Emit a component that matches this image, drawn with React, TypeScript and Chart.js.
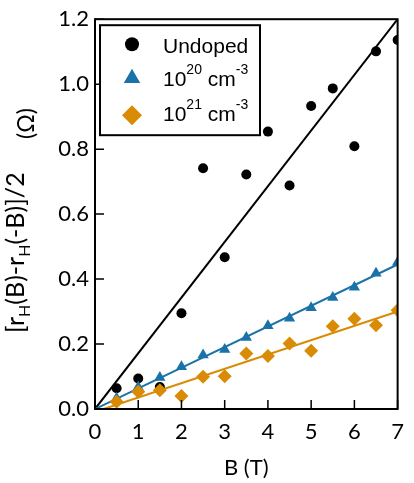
import React, { useEffect, useRef } from 'react';
import { Chart, registerables } from 'chart.js';

Chart.register(...registerables);

// ---- data ----
const bValues = [0.5, 1, 1.5, 2, 2.5, 3, 3.5, 4, 4.5, 5, 5.5, 6, 6.5, 7];
const undoped = [0.064, 0.094, 0.068, 0.295, 0.741, 0.467, 0.722, 0.854, 0.688, 0.933, 0.987, 0.809, 1.101, 1.136];
const doped20 = [0.033, 0.068, 0.097, 0.13, 0.166, 0.183, 0.22, 0.256, 0.279, 0.312, 0.343, 0.375, 0.418, 0.452];
const doped21 = [0.022, 0.053, 0.058, 0.04, 0.099, 0.101, 0.171, 0.163, 0.202, 0.179, 0.255, 0.278, 0.258, 0.304];

const fitUndopedX = [0, 7];
const fitUndopedY = [0, 1.2];
const fit20X = [0, 7];
const fit20Y = [0, 0.445];
const fit21X = [0.2, 7];
const fit21Y = [0, 0.3];

const xMin = 0, xMax = 7, xStep = 1;
const yMin = 0, yMax = 1.2, yStep = 0.2;

const legendUndoped = 'Undoped';
const legend20 = ['10', '20', ' cm', '-3'];
const legend21 = ['10', '21', ' cm', '-3'];
const xTitle = 'B (T)';
const yTitleParts = ['[r', 'H', '(B)-r', 'H', '(-B)]/2'];
const yTitleUnit = '(Ω)';

const BLACK = '#000000';
const BLUE = '#1a72a8';
const ORANGE = '#d98b06';
const FONT = 'Lato, "DejaVu Sans", sans-serif';
const LFONT = '"Liberation Sans", Arial, sans-serif';

const pts = (xs: number[], ys: number[]) => xs.map((v, i) => ({ x: v, y: ys[i] }));

type Seg = { t: string; size: number; dy: number; fam: string };

function drawRich(ctx: CanvasRenderingContext2D, segs: Seg[], x: number, y: number) {
  let cx = x;
  for (const s of segs) {
    ctx.font = `${s.size}px ${s.fam}`;
    ctx.fillText(s.t, cx, y + s.dy);
    cx += ctx.measureText(s.t).width;
  }
  return cx - x;
}

const customPlugin = {
  id: 'customDecor',
  afterDraw(chart: any) {
    const { ctx, chartArea: a, scales } = chart;
    const xs = scales.x, ys = scales.y;
    ctx.save();
    // frame
    ctx.strokeStyle = BLACK;
    ctx.lineWidth = 2;
    ctx.strokeRect(a.left, a.top, a.right - a.left, a.bottom - a.top);
    // inward ticks
    ctx.lineWidth = 1.5;
    ctx.beginPath();
    xs.ticks.forEach((t: any) => {
      const px = xs.getPixelForValue(t.value);
      ctx.moveTo(px, a.bottom);
      ctx.lineTo(px, a.bottom - 9);
    });
    ys.ticks.forEach((t: any) => {
      const py = ys.getPixelForValue(t.value);
      ctx.moveTo(a.left, py);
      ctx.lineTo(a.left + 9, py);
    });
    ctx.stroke();

    // legend
    const bx = a.left + 5, by = a.top + 6, bw = 160, bh = 110;
    ctx.fillStyle = '#ffffff';
    ctx.fillRect(bx, by, bw, bh);
    ctx.lineWidth = 2;
    ctx.strokeStyle = BLACK;
    ctx.strokeRect(bx, by, bw, bh);
    const mx = bx + 32;
    ctx.fillStyle = BLACK;
    ctx.beginPath();
    ctx.arc(mx, by + 19, 7, 0, Math.PI * 2);
    ctx.fill();
    ctx.fillStyle = BLUE;
    ctx.beginPath();
    const tr = 9.5, tcy = by + 53;
    ctx.moveTo(mx, tcy - tr);
    ctx.lineTo(mx + tr * Math.sin((2 * Math.PI) / 3), tcy + tr / 2);
    ctx.lineTo(mx - tr * Math.sin((2 * Math.PI) / 3), tcy + tr / 2);
    ctx.closePath();
    ctx.fill();
    ctx.fillStyle = ORANGE;
    ctx.beginPath();
    const dr = 10, dcy = by + 90;
    ctx.moveTo(mx, dcy - dr);
    ctx.lineTo(mx + dr, dcy);
    ctx.lineTo(mx, dcy + dr);
    ctx.lineTo(mx - dr, dcy);
    ctx.closePath();
    ctx.fill();
    ctx.fillStyle = BLACK;
    ctx.textBaseline = 'alphabetic';
    ctx.textAlign = 'left';
    const tx = bx + 63;
    drawRich(ctx, [{ t: legendUndoped, size: 21, dy: 0, fam: LFONT }], tx, by + 28);
    const mk = (p: string[]): Seg[] => [
      { t: p[0], size: 21, dy: 0, fam: LFONT },
      { t: p[1], size: 14, dy: -12, fam: LFONT },
      { t: p[2], size: 21, dy: 0, fam: LFONT },
      { t: p[3], size: 14, dy: -12, fam: LFONT },
    ];
    drawRich(ctx, mk(legend20), tx, by + 61);
    drawRich(ctx, mk(legend21), tx, by + 96);

    // y title (rotated)
    const main: Seg[] = [
      { t: yTitleParts[0], size: 25, dy: 0, fam: FONT },
      { t: yTitleParts[1], size: 16, dy: 6, fam: FONT },
      { t: yTitleParts[2], size: 25, dy: 0, fam: FONT },
      { t: yTitleParts[3], size: 16, dy: 6, fam: FONT },
      { t: yTitleParts[4], size: 25, dy: 0, fam: FONT },
    ];
    ctx.save();
    ctx.translate(24, 333);
    ctx.rotate(-Math.PI / 2);
    drawRich(ctx, main, 0, 0);
    ctx.restore();
    ctx.save();
    ctx.translate(34, 139);
    ctx.rotate(-Math.PI / 2);
    drawRich(ctx, [{ t: yTitleUnit, size: 23, dy: 0, fam: FONT }], 0, 0);
    ctx.restore();

    ctx.restore();
  },
};

export default function App() {
  const ref = useRef<HTMLCanvasElement | null>(null);
  useEffect(() => {
    if (!ref.current) return;
    const chart = new Chart(ref.current, {
      type: 'scatter',
      data: {
        datasets: [
          { label: 'fitU', data: pts(fitUndopedX, fitUndopedY), showLine: true, borderColor: BLACK, borderWidth: 2, pointRadius: 0, order: 6 },
          { label: 'fit20', data: pts(fit20X, fit20Y), showLine: true, borderColor: BLUE, borderWidth: 2, pointRadius: 0, order: 5 },
          { label: 'fit21', data: pts(fit21X, fit21Y), showLine: true, borderColor: ORANGE, borderWidth: 2, pointRadius: 0, order: 4 },
          { label: 'Undoped', data: pts(bValues, undoped), backgroundColor: BLACK, borderColor: BLACK, borderWidth: 0, pointStyle: 'circle', pointRadius: 5, order: 3 },
          { label: '1e20', data: pts(bValues, doped20), backgroundColor: BLUE, borderColor: BLUE, borderWidth: 0, pointStyle: 'triangle', pointRadius: 6.5, order: 2 },
          { label: '1e21', data: pts(bValues, doped21), backgroundColor: ORANGE, borderColor: ORANGE, borderWidth: 0, pointStyle: 'rectRot', pointRadius: 7, order: 1 },
        ],
      },
      options: {
        responsive: false,
        animation: false,
        devicePixelRatio: 1,
        layout: { padding: { top: 18, right: 8, left: 0, bottom: 0 } },
        plugins: { legend: { display: false }, tooltip: { enabled: false } },
        scales: {
          x: {
            type: 'linear',
            min: xMin,
            max: xMax,
            grid: { display: false, drawTicks: false },
            border: { display: false },
            ticks: { stepSize: xStep, color: BLACK, font: { family: FONT, size: 22 }, padding: 10, maxRotation: 0 },
            title: { display: true, text: xTitle, color: BLACK, font: { family: FONT, size: 22 }, padding: { top: 0, bottom: 2 } },
            afterFit: (s: any) => { s.height = 74; },
          },
          y: {
            type: 'linear',
            min: yMin,
            max: yMax,
            grid: { display: false, drawTicks: false },
            border: { display: false },
            ticks: { stepSize: yStep, color: BLACK, font: { family: FONT, size: 22 }, padding: 6, callback: (v: any) => Number(v).toFixed(1) },
            afterFit: (s: any) => { s.width = 95; },
          },
        },
      },
      plugins: [customPlugin],
    } as any);
    return () => chart.destroy();
  }, []);
  return (
    <div style={{ position: 'absolute', left: 0, top: 0, width: 414, height: 483, background: '#fff' }}>
      <canvas ref={ref} width={414} height={483} style={{ display: 'block' }} />
    </div>
  );
}
